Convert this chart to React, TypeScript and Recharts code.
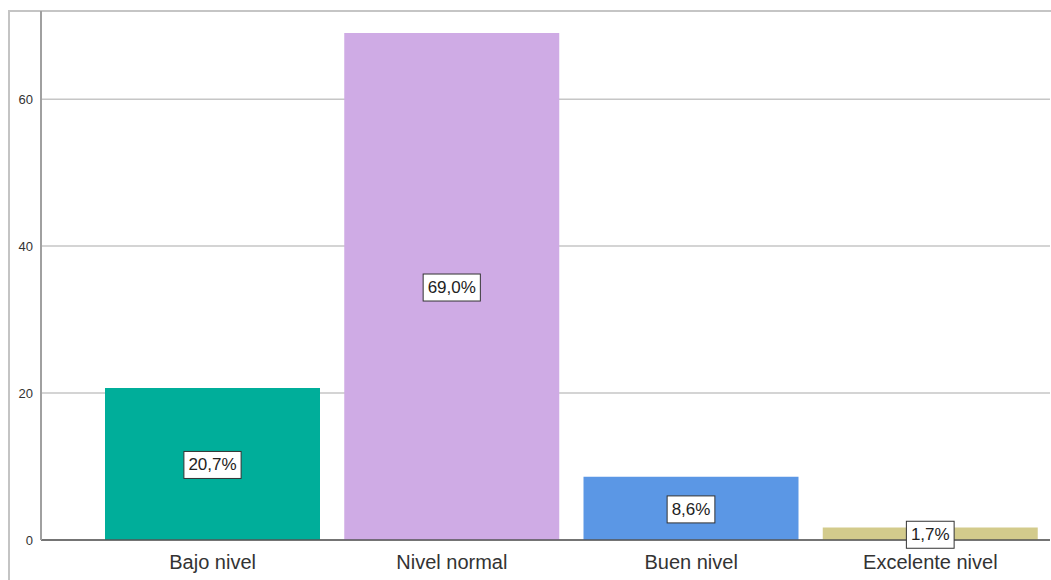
import { BarChart, Bar, XAxis, YAxis, CartesianGrid, Cell, LabelList } from "recharts";

const categories = ["Bajo nivel", "Nivel normal", "Buen nivel", "Excelente nivel"];
const percents = [20.7, 69.0, 8.6, 1.7];
const percentLabels = ["20,7%", "69,0%", "8,6%", "1,7%"];
const yTicks = [0, 20, 40, 60];
const barColors = ["#00ae9a", "#cfabe5", "#5b97e5", "#d3cb8c"];

const data = categories.map((c, i) => ({ name: c, value: percents[i], label: percentLabels[i] }));

// rough Arial widths in em
const charW = (ch: string) => (ch === "," ? 0.278 : ch === "%" ? 0.889 : 0.556);

const BoxLabel = (props: any) => {
  const { x, y, width, height, index } = props;
  const text = percentLabels[index];
  const fs = 17;
  const w = text.split("").reduce((s, ch) => s + charW(ch) * fs, 0) + 9;
  const h = 27;
  const cx = x + width / 2;
  const cy = y + height / 2 + 1;
  return (
    <g>
      <rect x={cx - w / 2} y={cy - h / 2} width={w} height={h} fill="#fff" stroke="#333" strokeWidth={1} />
      <text x={cx} y={cy} textAnchor="middle" dominantBaseline="central" fontSize={fs} fill="#222" fontFamily="Liberation Sans, Arial, sans-serif">
        {text}
      </text>
    </g>
  );
};

export default function App() {
  return (
    <div style={{ position: "absolute", left: 0, top: 0, width: 1051, height: 580, overflow: "hidden", background: "#fff" }}>
      {/* outer frame */}
      <div style={{ position: "absolute", left: 8, top: 10, width: 1100, height: 600, borderLeft: "2px solid #c4c4c4", borderTop: "2px solid #c4c4c4" }} />
      <div style={{ position: "absolute", left: 0, top: 0 }}>
        <BarChart width={1051} height={580} data={data} margin={{ top: 11, right: 1, bottom: 10, left: 0 }} barSize={215}>
          <CartesianGrid vertical={false} stroke="#c6c6c6" strokeWidth={1.5} />
          <XAxis
            dataKey="name"
            height={30}
            padding={{ left: 52, right: 0 }}
            tickLine={false}
            axisLine={{ stroke: "#555", strokeWidth: 1.5 }}
            tick={{ fontSize: 20, fill: "#333", fontFamily: "Liberation Sans, Arial, sans-serif" }}
            tickMargin={15}
            tickSize={0}
            interval={0}
          />
          <YAxis
            width={41}
            domain={[0, 72]}
            ticks={yTicks}
            allowDataOverflow
            tickLine={false}
            axisLine={{ stroke: "#a0a0a0", strokeWidth: 2 }}
            tick={{ fontSize: 13, fill: "#333", fontFamily: "Liberation Sans, Arial, sans-serif" }}
            tickSize={0}
            tickMargin={8}
          />
          <Bar dataKey="value" isAnimationActive={false}>
            {data.map((d, i) => (
              <Cell key={d.name} fill={barColors[i]} />
            ))}
            <LabelList dataKey="label" content={BoxLabel} />
          </Bar>
        </BarChart>
      </div>
    </div>
  );
}
